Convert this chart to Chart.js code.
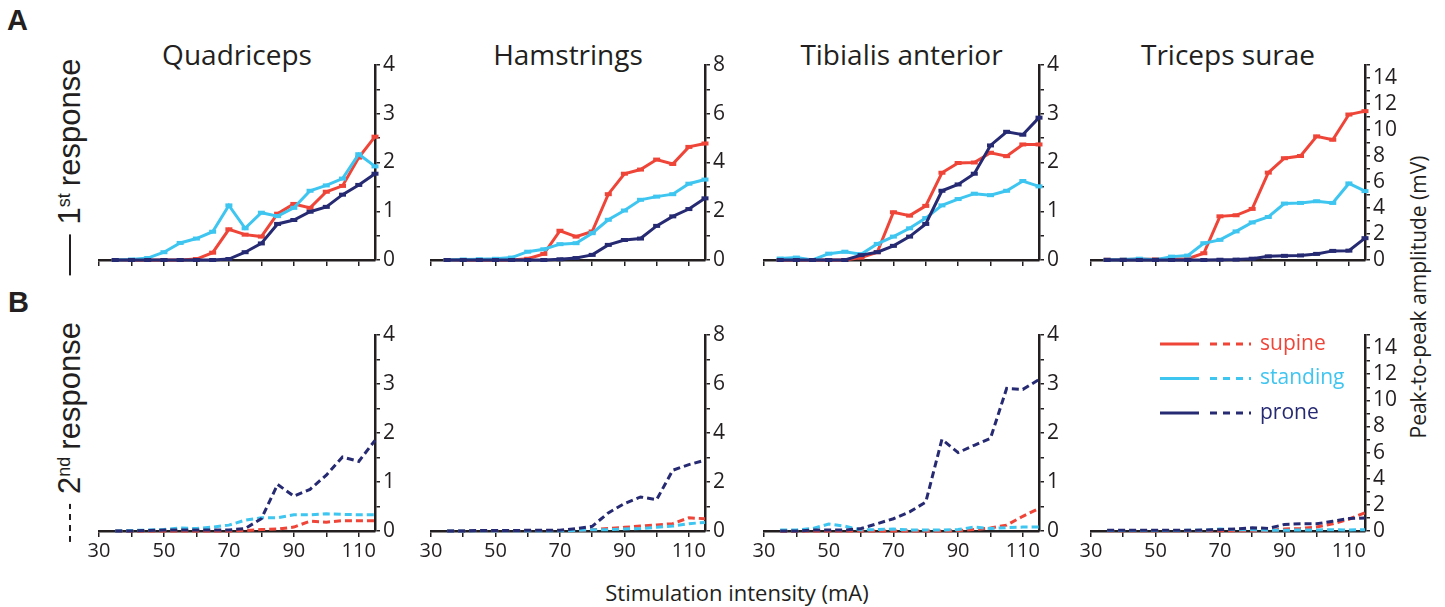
<!DOCTYPE html>
<html>
<head>
<meta charset="utf-8">
<script src="https://cdn.jsdelivr.net/npm/chart.js@4.4.1/dist/chart.umd.min.js"></script>
<style>
  body { margin: 0; width: 1445px; height: 607px; background: #fff; position: relative; overflow: hidden; font-family: "Open Sans", sans-serif; color: #231f20; }
  canvas { position: absolute; }
  .title { position: absolute; font-size: 28px; transform: translate(-50%, -50%); white-space: nowrap; }
  .panel { position: absolute; font: bold 29px "Liberation Sans", Arial, sans-serif; }
  .side { position: absolute; transform: translate(-50%, -50%) rotate(-90deg); white-space: nowrap; font: 31px "Liberation Sans", Arial, sans-serif; display: flex; align-items: center; }
  .side sup { font-size: 18px; position: relative; top: -6px; margin-right: 7px; }
  .solid { display: inline-block; width: 41px; height: 2.5px; background: #231f20; margin-right: 10px; }
  .dash { display: inline-block; width: 38px; height: 2.5px; background: repeating-linear-gradient(90deg, #231f20 0 6px, transparent 6px 11px); margin-right: 10px; }
  .axtitle { position: absolute; font-size: 22px; white-space: nowrap; transform: translate(-50%, -50%); }
</style>
</head>
<body>
<div class="panel" style="left:7px; top:4px;">A</div>
<div class="panel" style="left:8px; top:286px;">B</div>
<div class="side" style="left:70px; top:167px;"><span class="solid"></span>1<sup>st</sup>response</div>
<div class="side" style="left:70px; top:432px;"><span class="dash"></span>2<sup>nd</sup>response</div>
<div class="axtitle" style="left:1418px; top:297px; font-size:21px; transform: translate(-50%, -50%) rotate(-90deg);">Peak-to-peak amplitude (mV)</div>
<div class="axtitle" style="left:737px; top:592px;">Stimulation intensity (mA)</div>

<script>
// stimulation intensities (mA)
const intensity = [35, 40, 45, 50, 55, 60, 65, 70, 75, 80, 85, 90, 95, 100, 105, 110, 115];
const muscles = ['Quadriceps', 'Hamstrings', 'Tibialis anterior', 'Triceps surae'];
const positions = ['supine', 'standing', 'prone'];
const xTicks = [30, 40, 50, 60, 70, 80, 90, 100, 110];
const xLabels = [30, 50, 70, 90, 110];
const yMax = [4, 8, 4, 15];
const yStep = [0.5, 1, 0.5, 1];
const yLabelStep = [1, 2, 1, 2];

// 1st response (mV)
const quad1Supine   = [0, 0, 0, 0, 0, 0.02, 0.15, 0.63, 0.52, 0.48, 0.95, 1.15, 1.07, 1.4, 1.52, 2.1, 2.53];
const quad1Standing = [0, 0.01, 0.04, 0.16, 0.35, 0.44, 0.58, 1.12, 0.65, 0.97, 0.9, 1.07, 1.42, 1.53, 1.67, 2.17, 1.92];
const quad1Prone    = [0, 0, 0, 0, 0, 0, 0, 0.02, 0.16, 0.34, 0.74, 0.82, 0.99, 1.09, 1.34, 1.54, 1.77];
const ham1Supine    = [0, 0, 0, 0, 0, 0.05, 0.25, 1.2, 0.96, 1.17, 2.7, 3.54, 3.71, 4.12, 3.94, 4.64, 4.78];
const ham1Standing  = [0, 0.02, 0.03, 0.05, 0.1, 0.34, 0.44, 0.65, 0.69, 1.1, 1.65, 2.03, 2.47, 2.6, 2.7, 3.13, 3.3];
const ham1Prone     = [0, 0, 0, 0, 0, 0, 0, 0.03, 0.08, 0.21, 0.62, 0.82, 0.88, 1.4, 1.79, 2.09, 2.53];
const tib1Supine    = [0, 0, 0, 0, 0, 0.05, 0.16, 0.98, 0.91, 1.11, 1.79, 1.99, 2.0, 2.2, 2.13, 2.37, 2.37];
const tib1Standing  = [0.03, 0.05, 0, 0.13, 0.17, 0.12, 0.33, 0.48, 0.65, 0.86, 1.12, 1.25, 1.36, 1.33, 1.42, 1.62, 1.51];
const tib1Prone     = [0, 0, 0, 0, 0, 0.1, 0.16, 0.29, 0.48, 0.74, 1.42, 1.55, 1.77, 2.35, 2.63, 2.57, 2.92];
const tri1Supine    = [0.03, 0.03, 0.05, 0.05, 0.05, 0.1, 0.52, 3.36, 3.44, 3.93, 6.72, 7.83, 8.0, 9.51, 9.25, 11.19, 11.45];
const tri1Standing  = [0.02, 0.03, 0.1, 0.02, 0.26, 0.34, 1.29, 1.55, 2.2, 2.89, 3.31, 4.34, 4.39, 4.52, 4.39, 5.89, 5.3];
const tri1Prone     = [0, 0, 0, 0, 0, 0, 0, 0.02, 0.03, 0.1, 0.28, 0.32, 0.35, 0.47, 0.7, 0.72, 1.68];

// 2nd response (mV)
const quad2Supine   = [0, 0, 0, 0, 0, 0, 0, 0, 0.01, 0.03, 0.04, 0.08, 0.2, 0.18, 0.21, 0.21, 0.21];
const quad2Standing = [0, 0.01, 0.02, 0.03, 0.06, 0.05, 0.08, 0.12, 0.22, 0.27, 0.27, 0.33, 0.33, 0.35, 0.34, 0.33, 0.33];
const quad2Prone    = [0, 0, 0.01, 0.02, 0.02, 0.02, 0.02, 0.02, 0.05, 0.25, 0.95, 0.71, 0.85, 1.14, 1.51, 1.42, 1.85];
const ham2Supine    = [0, 0, 0, 0, 0, 0, 0.01, 0.02, 0.03, 0.05, 0.1, 0.15, 0.2, 0.25, 0.3, 0.54, 0.5];
const ham2Standing  = [0, 0, 0, 0, 0, 0, 0, 0.01, 0.02, 0.05, 0.05, 0.08, 0.1, 0.15, 0.2, 0.3, 0.35];
const ham2Prone     = [0, 0, 0.02, 0.02, 0.02, 0.03, 0.03, 0.03, 0.1, 0.19, 0.74, 1.12, 1.39, 1.28, 2.48, 2.71, 2.89];
const tib2Supine    = [0, 0, 0, 0, 0, 0, 0, 0, 0, 0, 0, 0.01, 0.03, 0.06, 0.12, 0.3, 0.46];
const tib2Standing  = [0.02, 0.02, 0.05, 0.14, 0.1, 0.02, 0.03, 0.04, 0.02, 0.02, 0.02, 0.03, 0.08, 0.05, 0.07, 0.08, 0.08];
const tib2Prone     = [0, 0, 0.02, 0.02, 0.02, 0.05, 0.15, 0.25, 0.39, 0.59, 1.87, 1.6, 1.75, 1.89, 2.91, 2.89, 3.09];
const tri2Supine    = [0.02, 0.02, 0.02, 0.02, 0.02, 0.02, 0.02, 0.02, 0.02, 0.02, 0.02, 0.15, 0.2, 0.3, 0.55, 0.9, 1.4];
const tri2Standing  = [0.03, 0.03, 0.03, 0.03, 0.03, 0.05, 0.05, 0.15, 0.1, 0.1, 0.05, 0.05, 0.08, 0.08, 0.1, 0.08, 0.1];
const tri2Prone     = [0.05, 0.05, 0.05, 0.05, 0.05, 0.05, 0.08, 0.1, 0.15, 0.25, 0.2, 0.5, 0.55, 0.55, 0.75, 0.95, 1.0];

const firstResponse = [
    [quad1Supine, quad1Standing, quad1Prone],
    [ham1Supine, ham1Standing, ham1Prone],
    [tib1Supine, tib1Standing, tib1Prone],
    [tri1Supine, tri1Standing, tri1Prone]
];
const secondResponse = [
    [quad2Supine, quad2Standing, quad2Prone],
    [ham2Supine, ham2Standing, ham2Prone],
    [tib2Supine, tib2Standing, tib2Prone],
    [tri2Supine, tri2Standing, tri2Prone]
];

const colors = ['#EF4538', '#3EC5F0', '#262A72'];
const ink = '#231f20';

// plot area geometry (page pixels)
const plotLeft = [99, 431, 764, 1091];
const plotRight = [375, 705, 1039, 1365];
const rowTop = [65, 335];
const rowBottom = [260, 531];
const padL = 20, padT = 12, yW = 50, xH = 35;

// muscle titles
muscles.forEach((m, i) => {
    const d = document.createElement('div');
    d.className = 'title';
    d.textContent = m;
    d.style.left = ((plotLeft[i] + plotRight[i]) / 2) + 'px';
    d.style.top = '54px';
    document.body.appendChild(d);
});

// legend drawn inside the last panel
const legendPlugin = {
    id: 'posLegend',
    afterDraw(chart) {
        const ctx = chart.ctx;
        const a = chart.chartArea;
        ctx.save();
        ctx.lineWidth = 3;
        ctx.font = '21px "Open Sans"';
        ctx.textBaseline = 'middle';
        positions.forEach((p, k) => {
            const y = a.top + 9 + k * 34.5;
            ctx.strokeStyle = colors[k];
            ctx.setLineDash([]);
            ctx.beginPath(); ctx.moveTo(a.left + 69, y); ctx.lineTo(a.left + 108, y); ctx.stroke();
            ctx.setLineDash([7, 6]);
            ctx.beginPath(); ctx.moveTo(a.left + 119, y); ctx.lineTo(a.left + 160, y); ctx.stroke();
            ctx.fillStyle = colors[k];
            ctx.fillText(p, a.left + 169, y);
        });
        ctx.restore();
    }
};

function makePanel(row, col) {
    const series = row === 0 ? firstResponse[col] : secondResponse[col];
    const w = plotRight[col] - plotLeft[col];
    const h = rowBottom[row] - rowTop[row];
    const canvas = document.createElement('canvas');
    canvas.width = w + padL + yW;
    canvas.height = h + padT + xH;
    canvas.style.left = (plotLeft[col] - padL) + 'px';
    canvas.style.top = (rowTop[row] - padT) + 'px';
    document.body.appendChild(canvas);

    const yTicks = [];
    for (let v = 0; v <= yMax[col] + 1e-9; v += yStep[col]) yTicks.push(Math.round(v * 10) / 10);

    new Chart(canvas, {
        type: 'line',
        data: {
            datasets: series.map((vals, k) => ({
                label: positions[k],
                data: intensity.map((x, j) => ({ x: x, y: vals[j] })),
                borderColor: colors[k],
                backgroundColor: colors[k],
                borderWidth: 3,
                borderDash: row === 0 ? [] : [7, 4],
                pointStyle: 'line',
                pointRadius: row === 0 ? 3.5 : 0,
                pointBorderWidth: 4,
                pointBorderColor: colors[k],
                tension: 0,
                clip: false
            })).reverse()
        },
        options: {
            responsive: false,
            animation: false,
            layout: { padding: { left: padL, top: padT, right: 0, bottom: 0 } },
            plugins: { legend: { display: false }, tooltip: { enabled: false } },
            scales: {
                x: {
                    type: 'linear',
                    min: 30,
                    max: 115,
                    afterBuildTicks: s => { s.ticks = xTicks.map(v => ({ value: v })); },
                    afterFit: s => { s.height = xH; s.paddingLeft = 0; s.paddingRight = 0; },
                    border: { color: ink, width: 2.5 },
                    grid: { drawOnChartArea: false, tickLength: 6, color: ink, lineWidth: 1.5 },
                    ticks: {
                        autoSkip: false,
                        maxRotation: 0,
                        padding: 2,
                        color: ink,
                        font: { family: 'Open Sans', size: 20 },
                        callback: v => (row === 1 && xLabels.includes(v)) ? String(v) : ''
                    }
                },
                y: {
                    position: 'right',
                    min: 0,
                    max: yMax[col],
                    afterBuildTicks: s => { s.ticks = yTicks.map(v => ({ value: v })); },
                    afterFit: s => { s.width = yW; s.paddingTop = 0; s.paddingBottom = 0; },
                    border: { color: ink, width: 2.5 },
                    grid: { drawOnChartArea: false, tickLength: 5, color: ink, lineWidth: 1.5 },
                    ticks: {
                        autoSkip: false,
                        padding: 3,
                        color: ink,
                        font: { family: 'Open Sans', size: 21 },
                        callback: v => (Math.abs(v % yLabelStep[col]) < 1e-6 && v <= 14) ? String(v) : ''
                    }
                }
            }
        },
        plugins: (row === 1 && col === 3) ? [legendPlugin] : []
    });
}

for (let r = 0; r < 2; r++) {
    for (let c = 0; c < 4; c++) makePanel(r, c);
}
</script>
</body>
</html>
